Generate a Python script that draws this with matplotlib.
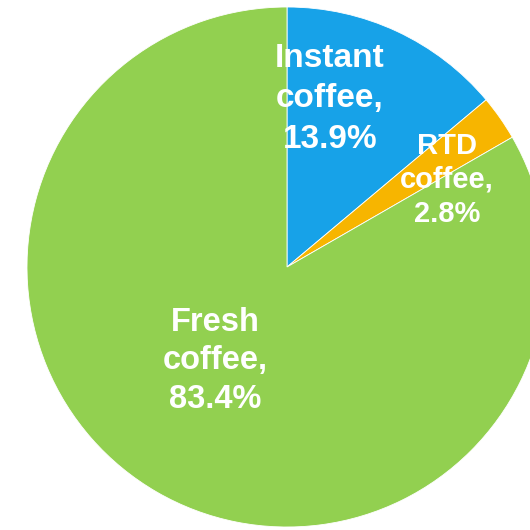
import matplotlib.pyplot as plt

# coffee market share by segment
segments = ["Instant", "RTD", "Fresh"]
shares = [13.9, 2.8, 83.4]
colors = ["#17A2E8", "#F7B500", "#92D050"]

# label layout: offsets from pie centre (pixels), font size, line spacing
label_offsets = [(43, 168), (160, 87), (-72, -94)]
label_sizes = [24, 21, 23.5]
label_spacing = [1.38, 1.25, 1.33]

W, H = 530, 530
CX, CY, R = 287, H - 267, 260

fig = plt.figure(figsize=(W / 100, H / 100), dpi=100)
ax = fig.add_axes([0, 0, 1, 1])

ax.pie(shares, colors=colors, startangle=90, counterclock=False,
       center=(CX, CY), radius=R, frame=True,
       wedgeprops=dict(edgecolor='white', linewidth=0.6))
ax.set_xlim(0, W)
ax.set_ylim(0, H)
ax.set_aspect('equal')
ax.axis('off')

for name, val, (dx, dy), fs, ls in zip(segments, shares, label_offsets,
                                       label_sizes, label_spacing):
    ax.text(CX + dx, CY + dy, f"{name}\ncoffee,\n{val}%",
            ha='center', va='center', color='white', fontsize=fs,
            fontweight='bold', family='Liberation Sans', linespacing=ls)

fig.savefig("out.png", dpi=100)
